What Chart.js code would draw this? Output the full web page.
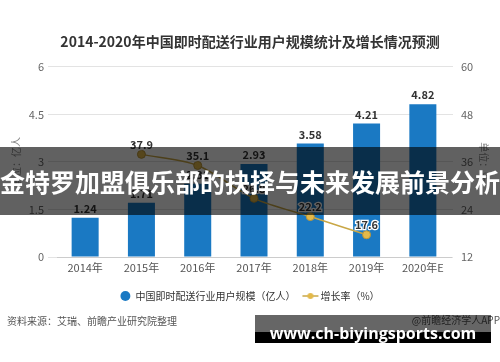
<!DOCTYPE html>
<html>
<head>
<meta charset="utf-8">
<script src="https://cdn.jsdelivr.net/npm/chart.js@4"></script>
<style>
  html, body { margin: 0; padding: 0; background: #fff; }
  #wrap { width: 500px; height: 362px; }
</style>
</head>
<body>
<div id="wrap"><canvas id="chart" width="500" height="362"></canvas></div>
<script>
// 数据
const years = ['2014年', '2015年', '2016年', '2017年', '2018年', '2019年', '2020年E'];
const users = [1.24, 1.71, 2.31, 2.93, 3.58, 4.21, 4.82];          // 亿人
const growth = [null, 37.9, 35.1, 26.8, 22.2, 17.6, null];           // %
const leftTicks = [0, 1.5, 3, 4.5, 6];
const rightTicks = [12, 24, 36, 48, 60];

const FONT = '"Noto Sans CJK SC", "Noto Sans", sans-serif';
const BLUE = '#1a79c3';
const GOLD = '#c9a746';

// 图例里的折线标记（短线 + 圆点）
const lineMarker = document.createElement('canvas');
lineMarker.width = 18; lineMarker.height = 10;
(function () {
    let c = lineMarker.getContext('2d');
    c.strokeStyle = GOLD; c.lineWidth = 1.5;
    c.beginPath(); c.moveTo(1, 5); c.lineTo(17, 5); c.stroke();
    c.fillStyle = '#e3b94a';
    c.beginPath(); c.arc(9, 5, 3, 0, Math.PI * 2); c.fill();
})();

// 数值标签
const valueLabels = {
    id: 'valueLabels',
    afterDatasetsDraw(chart) {
        const ctx = chart.ctx;
        ctx.save();
        ctx.textAlign = 'center';
        ctx.textBaseline = 'middle';
        ctx.font = 'bold 11px ' + FONT;
        chart.getDatasetMeta(0).data.forEach((bar, i) => {
            ctx.fillStyle = '#333';
            ctx.fillText(users[i].toFixed(2), bar.x, bar.y - 9);
        });
        chart.getDatasetMeta(1).data.forEach((pt, i) => {
            if (growth[i] == null) return;
            ctx.lineWidth = 2.5;
            ctx.strokeStyle = '#fff';
            ctx.strokeText(growth[i].toFixed(1), pt.x, pt.y - 10);
            ctx.fillStyle = '#333';
            ctx.fillText(growth[i].toFixed(1), pt.x, pt.y - 10);
        });
        ctx.restore();
    }
};

// 来源、横幅与水印
const overlay = {
    id: 'overlay',
    afterDraw(chart) {
        const ctx = chart.ctx;
        ctx.save();
        ctx.font = '10px ' + FONT;
        ctx.fillStyle = '#555';
        ctx.textBaseline = 'middle';
        ctx.textAlign = 'left';
        ctx.fillText('资料来源：艾瑞、前瞻产业研究院整理', 7, 321);
        ctx.textAlign = 'right';
        ctx.fillText('@前瞻经济学人APP', 500, 320);

        // 横幅
        ctx.fillStyle = 'rgba(0,0,0,0.62)';
        ctx.fillRect(0, 147, 500, 68);
        ctx.fillStyle = '#fff';
        ctx.textAlign = 'center';
        ctx.font = 'bold 25px ' + FONT;
        ctx.fillText('金特罗加盟俱乐部的抉择与未来发展前景分析', 250, 182);

        // 网址水印
        ctx.fillStyle = 'rgba(0,0,0,0.6)';
        ctx.fillRect(255, 315, 236, 17);
        ctx.fillStyle = '#000';
        ctx.fillRect(255, 332, 236, 11);
        ctx.fillStyle = '#fff';
        ctx.font = 'bold 16px "Open Sans", sans-serif';
        ctx.fillText('www.ch-biyingsports.com', 373, 334);
        ctx.restore();
    }
};

new Chart(document.getElementById('chart'), {
    data: {
        labels: years,
        datasets: [{
            type: 'bar',
            label: '中国即时配送行业用户规模（亿人）',
            data: users,
            backgroundColor: BLUE,
            yAxisID: 'y',
            barPercentage: 0.6,
            categoryPercentage: 0.8,
            pointStyle: 'circle',
            order: 2
        }, {
            type: 'line',
            label: '增长率（%）',
            data: growth,
            yAxisID: 'y1',
            borderColor: GOLD,
            borderWidth: 1.5,
            backgroundColor: '#e3b94a',
            pointBackgroundColor: '#e3b94a',
            pointBorderColor: '#b8953a',
            pointBorderWidth: 1,
            pointRadius: 4,
            tension: 0.3,
            order: 1
        }]
    },
    options: {
        responsive: false,
        animation: false,
        layout: { padding: { top: 0, bottom: 51, left: 0, right: 0 } },
        plugins: {
            title: {
                display: true,
                text: '2014-2020年中国即时配送行业用户规模统计及增长情况预测',
                color: '#333',
                font: { family: FONT, size: 14, weight: 'bold' },
                padding: { top: 33, bottom: 17 }
            },
            legend: {
                position: 'bottom',
                labels: {
                    usePointStyle: true,
                    boxHeight: 7,
                    boxWidth: 10,
                    padding: 10,
                    color: '#333',
                    font: { family: FONT, size: 10 },
                    sort: (a, b) => a.datasetIndex - b.datasetIndex,
                    generateLabels(chart) {
                        let items = Chart.defaults.plugins.legend.labels.generateLabels(chart);
                        items.forEach(it => {
                            if (it.datasetIndex === 1) it.pointStyle = lineMarker;
                            else { it.pointStyle = 'circle'; it.fillStyle = BLUE; it.strokeStyle = BLUE; }
                        });
                        return items;
                    }
                }
            },
            tooltip: { enabled: false }
        },
        scales: {
            x: {
                grid: { display: false, drawTicks: false },
                border: { color: '#ccc' },
                ticks: { color: '#555', font: { family: FONT, size: 11 }, padding: 4 },
                afterFit(s) { s.height = 24; }
            },
            y: {
                position: 'left',
                min: 0, max: 6,
                afterBuildTicks(s) { s.ticks = leftTicks.map(v => ({ value: v })); },
                grid: { color: '#e3e3e3', tickLength: 9, tickColor: '#e3e3e3' },
                border: { display: false },
                ticks: { color: '#666', font: { family: FONT, size: 11 }, padding: 4 },
                title: { display: true, text: '单位：亿人', color: '#888', font: { family: FONT, size: 10 }, padding: { top: 10 } },
                afterFit(s) { s.width = 57; }
            },
            y1: {
                position: 'right',
                min: 12, max: 60,
                afterBuildTicks(s) { s.ticks = rightTicks.map(v => ({ value: v })); },
                grid: { drawOnChartArea: false, tickLength: 2, tickColor: '#e3e3e3' },
                border: { display: false },
                ticks: { color: '#666', font: { family: FONT, size: 11 }, padding: 8 },
                title: { display: true, text: '单位：%', color: '#888', font: { family: FONT, size: 10 }, padding: { top: 10 } },
                afterFit(s) { s.width = 49; }
            }
        }
    },
    plugins: [valueLabels, overlay]
});
</script>
</body>
</html>
